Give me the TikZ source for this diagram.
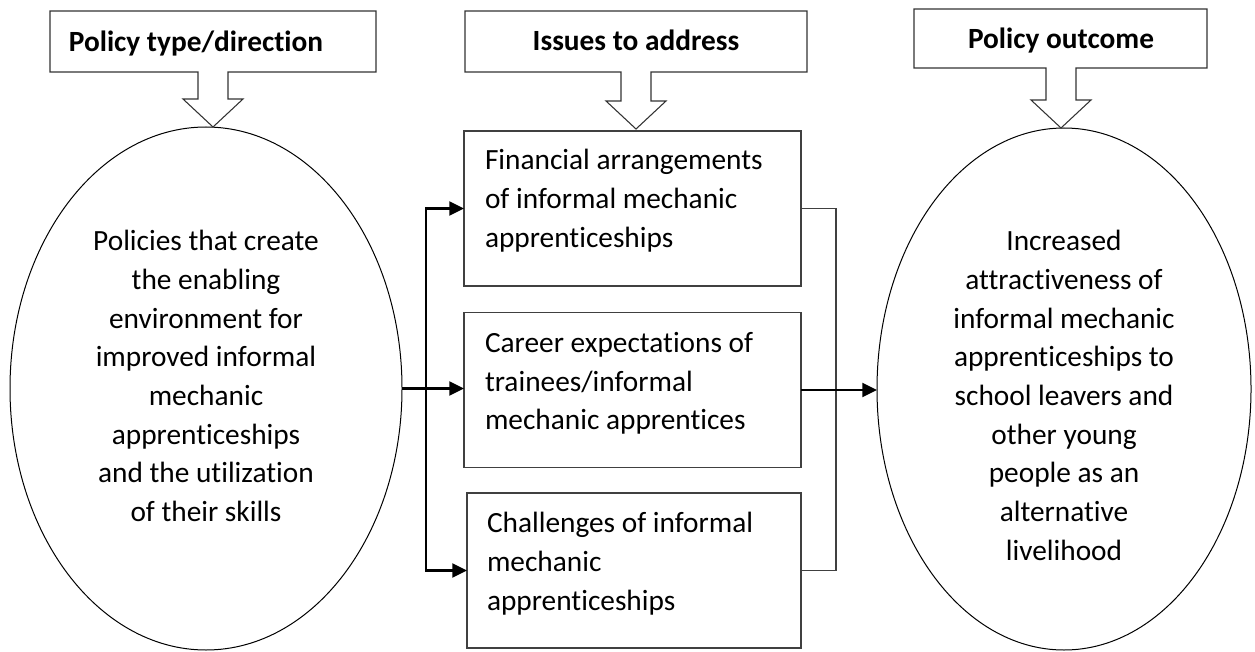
\documentclass[tikz,border=0pt]{standalone}
\usepackage{fontspec}
\setmainfont{Carlito}[Ligatures=NoCommon]
\usetikzlibrary{arrows.meta,shapes.geometric,calc}

% text set on a 29pt grid; \fl fixes the top of a first line 20pt above its baseline
\newcommand\bodyfont{\fontsize{22pt}{29pt}\selectfont}
\newcommand\fl{\rule{0pt}{20pt}}

\tikzset{
  every node/.style={inner sep=0pt, outer sep=0pt},
  hdrbox/.style={rectangle, draw=none},
  hdrtext/.style={font=\bodyfont\bfseries, anchor=base},
  callout/.style={draw=black!80, line width=0.8pt, line join=miter, fill=white},
  oval/.style={ellipse, draw=black, line width=0.75pt},
  ovaltext/.style={font=\bodyfont, align=center, anchor=north},
  issuebox/.style={rectangle, draw=black!75, line width=1pt, minimum height=116.25pt},
  issuetext/.style={font=\bodyfont, align=left, anchor=north west},
  conn/.style={draw=black, line width=1.6pt, -{Triangle[length=11pt,width=10.5pt]}},
  bothconn/.style={draw=black, line width=1.6pt, line join=miter,
    {Triangle[length=11pt,width=10.5pt]}-{Triangle[length=11pt,width=10.5pt]}},
  bracket/.style={draw=black!75, line width=0.9pt, line join=miter},
}

% outline of a heading box with a hollow block arrow pointing down to #2
\newcommand\downcallout[2]{%
  \draw[callout] (#1.north west) -- (#1.north east) -- (#1.south east)
    -- ($(#1.south -| #2)+(15,0)$) -- ($(#2)+(15,-28)$) -- ($(#2)+(30,-28)$)
    -- (#2) -- ($(#2)+(-30,-28)$) -- ($(#2)+(-15,-28)$)
    -- ($(#1.south -| #2)+(-15,0)$) -- (#1.south west) -- cycle;}

\begin{document}
\begin{tikzpicture}[x=0.75pt, y=-0.75pt]
\useasboundingbox (0,0) rectangle (1255,652);

% heading boxes
\node[hdrbox, minimum width=244.5pt, minimum height=45.75pt] (h1) at (213,41.5) {};
\node[hdrbox, minimum width=256.5pt, minimum height=45.75pt] (h2) at (636,41.5) {};
\node[hdrbox, minimum width=219.75pt, minimum height=44.25pt] (h3) at (1060.5,38.5) {};
\coordinate (tip1) at (213,127);
\coordinate (tip2) at (636,129);
\coordinate (tip3) at (1061,128);

% policy side ovals
\node[oval, minimum width=294pt, minimum height=392.25pt] (lell) at (206,388.5) {};
\node[oval, minimum width=280.5pt, minimum height=391.5pt] (rell) at (1064,389) {};

\downcallout{h1}{tip1}
\downcallout{h2}{tip2}
\downcallout{h3}{tip3}

\node[hdrtext] (t1) at (196,52) {Policy type/direction};
\node[hdrtext] (t2) at (636,51) {Issues to address};
\node[hdrtext] (t3) at (1061,49) {Policy outcome};

\node[ovaltext] (lt) at (206,224.3) {\fl Policies that create\\the enabling\\environment for\\improved informal\\mechanic\\apprenticeships\\and the utilization\\of their skills};
\node[ovaltext] (rt) at (1064,224.3) {\fl Increased\\attractiveness of\\informal mechanic\\apprenticeships to\\school leavers and\\other young\\people as an\\alternative\\livelihood};

% issue boxes
\node[issuebox, minimum width=252.75pt] (box1) at (632.5,208.5) {};
\node[issuebox, minimum width=252.75pt] (box2) at (632.5,390) {};
\node[issuebox, minimum width=250.5pt] (box3) at (634,570.5) {};

\node[issuetext] (b1t) at ($(box1.north west)+(21,12.3)$) {\fl Financial arrangements\\of informal mechanic\\apprenticeships};
\node[issuetext] (b2t) at ($(box2.north west)+(21,13.3)$) {\fl Career expectations of\\trainees/informal\\mechanic apprentices};
\node[issuetext] (b3t) at ($(box3.north west)+(20,13.3)$) {\fl Challenges of informal\\mechanic\\apprenticeships};

% connectors
\coordinate (sx) at (426,0);
\coordinate (bx) at (836,0);
\draw[conn] (lell.east) -- (lell.east -| box2.west);
\draw[bothconn] (box1.west) -- (box1.west -| sx) -- (box3.west -| sx) -- (box3.west);
\draw[bracket] (box1.east) -- (box1.east -| bx) -- (box3.east -| bx) -- (box3.east);
\draw[conn] (box2.east) -- (box2.east -| rell.west);
\end{tikzpicture}
\end{document}
